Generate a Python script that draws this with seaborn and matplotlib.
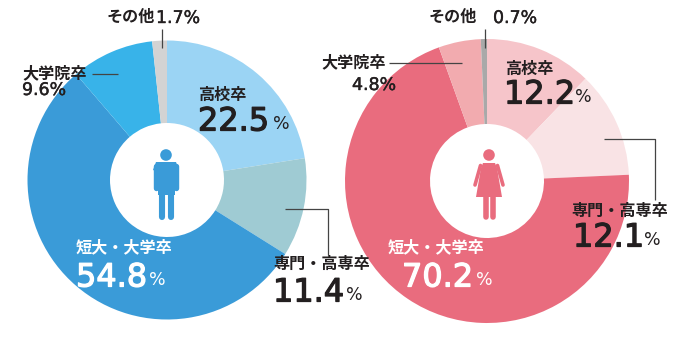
import matplotlib
matplotlib.use("Agg")
import matplotlib.patheffects as pe
import matplotlib.pyplot as plt
import seaborn as sns
from matplotlib.patches import Circle, Polygon

categories = ["高校卒", "専門・高専卒", "短大・大学卒", "大学院卒", "その他"]
male_values = [22.5, 11.4, 54.8, 9.6, 1.7]
female_values = [12.2, 12.1, 70.2, 4.8, 0.7]
male_colors = ["#9bd4f4", "#9fcbd3", "#3a9bd8", "#38b3e9", "#d3d3d3"]
female_colors = ["#f6c5ca", "#f9e3e5", "#e96c7e", "#f2abaf", "#a9a9a9"]

W, H = 682, 359
DARK = "#231f20"
MALE_ICON = "#3a9bd8"
FEMALE_ICON = "#e96c7e"

sns.set_theme(style="white")
plt.rcParams["font.family"] = ["Noto Sans CJK JP", "DejaVu Sans"]
NUM_FONT = ["DejaVu Sans"]

fig = plt.figure(figsize=(W / 100, H / 100), dpi=100, facecolor="white")


def donut(cx, cy, r, values, colors):
    ax = fig.add_axes([(cx - r) / W, 1 - (cy + r) / H, 2 * r / W, 2 * r / H])
    ax.pie(values, colors=colors, startangle=90, counterclock=False, radius=1,
           wedgeprops={"width": 1 - 57 / r, "linewidth": 0})
    ax.set_xlim(-1, 1)
    ax.set_ylim(-1, 1)
    ax.axis("off")
    return ax


donut(167, 180, 139.5, male_values, male_colors)
donut(487, 181, 142, female_values, female_colors)

# overlay in pixel coords for labels, leader lines, icons
ov = fig.add_axes([0, 0, 1, 1], zorder=5)
ov.set_xlim(0, W)
ov.set_ylim(H, 0)
ov.axis("off")
ov.patch.set_alpha(0)


def label(x, y, s, color=DARK):
    ov.text(x, y, s, fontsize=11.6, color=color, fontweight="bold", va="center", ha="left")


def small(x, y, s):
    ov.text(x, y, s, fontsize=12.5, color=DARK, family=NUM_FONT, va="center", ha="left",
            path_effects=[pe.withStroke(linewidth=0.3, foreground=DARK)])


def big(x, y, s, pct_x, color=DARK):
    ov.text(x, y, s, fontsize=23, color=color, family=NUM_FONT, va="center", ha="left",
            path_effects=[pe.withStroke(linewidth=0.9, foreground=color)])
    ov.text(pct_x, y + 2, "%", fontsize=12.5, color=color, family=NUM_FONT, va="center", ha="left")


def leader(xs, ys):
    ov.plot(xs, ys, color="#444444", lw=0.9, solid_capstyle="butt")


# male labels
label(107, 17, categories[4])
small(156, 18, f"{male_values[4]}%")
label(22, 73, categories[3])
small(22, 90, f"{male_values[3]}%")
label(198, 95, categories[0])
big(198, 122, f"{male_values[0]}", 273)
label(273, 264, categories[1])
big(273, 293, f"{male_values[1]}", 346)
label(76, 247, categories[2], color="white")
big(76, 278, f"{male_values[2]}", 149, color="white")
leader([162, 162], [29, 48])
leader([92, 118], [74, 74])
leader([285, 328, 328], [209, 209, 255])

# female labels
label(429, 17, categories[4])
small(493, 18, f"{female_values[4]}%")
label(321, 62, categories[3])
small(352, 85, f"{female_values[3]}%")
label(505, 69, categories[0])
big(504, 95, f"{female_values[0]}", 575)
label(571, 211, categories[1])
big(573, 238, f"{female_values[1]}", 644)
label(388, 247, categories[2], color="white")
big(402, 278, f"{female_values[2]}", 476, color="white")
leader([485, 485], [29, 48])
leader([389, 462], [63, 63])
leader([604, 655, 655], [139, 139, 200])

# white centres are the pie holes; figures sit on top
ov.add_patch(Circle((166, 155), 5.8, color=MALE_ICON, lw=0))
ov.add_patch(Polygon([(156, 162), (176, 162), (179, 170), (175, 172), (175, 195), (158, 195), (158, 172), (153, 170)],
                     closed=True, color=MALE_ICON, lw=0))
for xs, ys, lw in [([155.8, 155.8], [166, 187.5], 3.9), ([176.4, 176.4], [166, 187.5], 3.9),
                   ([162.3, 162.3], [190, 216.5], 4.4), ([170.8, 170.8], [190, 216.5], 4.4)]:
    ov.plot(xs, ys, color=MALE_ICON, lw=lw, solid_capstyle="round")

ov.add_patch(Circle((489, 155), 5.8, color=FEMALE_ICON, lw=0))
ov.add_patch(Polygon([(483, 163), (495, 163), (497, 168), (502, 197), (476, 197), (481, 168)],
                     closed=True, color=FEMALE_ICON, lw=0))
ov.plot([480.5, 475], [165.5, 185], color=FEMALE_ICON, lw=2.6, solid_capstyle="round")
ov.plot([497.5, 503], [165.5, 185], color=FEMALE_ICON, lw=2.6, solid_capstyle="round")
for x in [485.5, 492.5]:
    ov.plot([x, x], [197, 216.5], color=FEMALE_ICON, lw=4, solid_capstyle="round")

fig.savefig("out.png", dpi=100)
